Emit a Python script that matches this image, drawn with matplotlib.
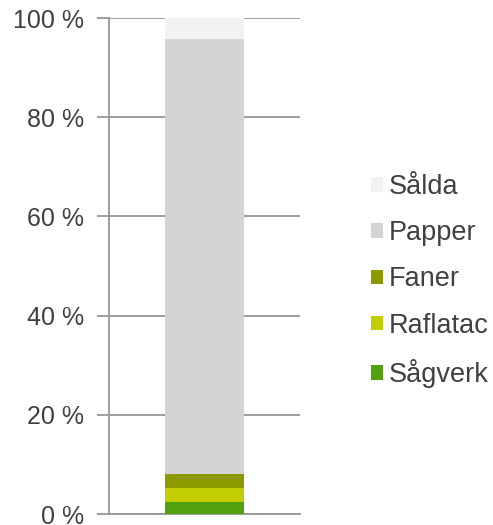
import matplotlib.pyplot as plt
import numpy as np

# stacked shares (%) bottom -> top
categories = ["Sågverk", "Raflatac", "Faner", "Papper", "Sålda"]
values = [2.4, 2.8, 2.8, 87.7, 4.3]
colors = ["#52A010", "#C2CE00", "#8C9A00", "#D4D4D4", "#F2F2F2"]
yticks = [0, 20, 40, 60, 80, 100]
ytick_labels = ["0 %", "20 %", "40 %", "60 %", "80 %", "100 %"]

plt.rcParams['font.family'] = ['Liberation Sans', 'DejaVu Sans']

fig = plt.figure(figsize=(4.93, 5.25), dpi=100)
ax = fig.add_axes([109/493, 11/525, 191/493, 496/525])

bottom = 0
handles = []
for name, val, col in zip(categories, values, colors):
    h = ax.bar(0, val, width=0.41, bottom=bottom, color=col, label=name, zorder=3)
    handles.append(h)
    bottom += val

ax.set_xlim(-0.5, 0.5)
ax.set_ylim(0, 100)
ax.set_xticks([])
ax.set_yticks(yticks)
ax.set_yticklabels(ytick_labels, fontsize=18, color="#404040")
ax.yaxis.grid(True, color="#969696", linewidth=1.3, zorder=0)
ax.tick_params(axis='y', length=9, width=1.3, color="#969696", pad=9)
for s in ["top", "right"]:
    ax.spines[s].set_visible(False)
for s in ["left", "bottom"]:
    ax.spines[s].set_color("#969696")
    ax.spines[s].set_linewidth(1.3)

leg = fig.legend(handles[::-1], categories[::-1], loc="center left",
                 bbox_to_anchor=(371/493, 1 - 281/525), frameon=False,
                 fontsize=19.5, handlelength=0.45, handleheight=0.45,
                 handletextpad=0.22, labelspacing=0.75, labelcolor="#404040",
                 borderaxespad=0, borderpad=0)

fig.savefig("out.png", dpi=100)
